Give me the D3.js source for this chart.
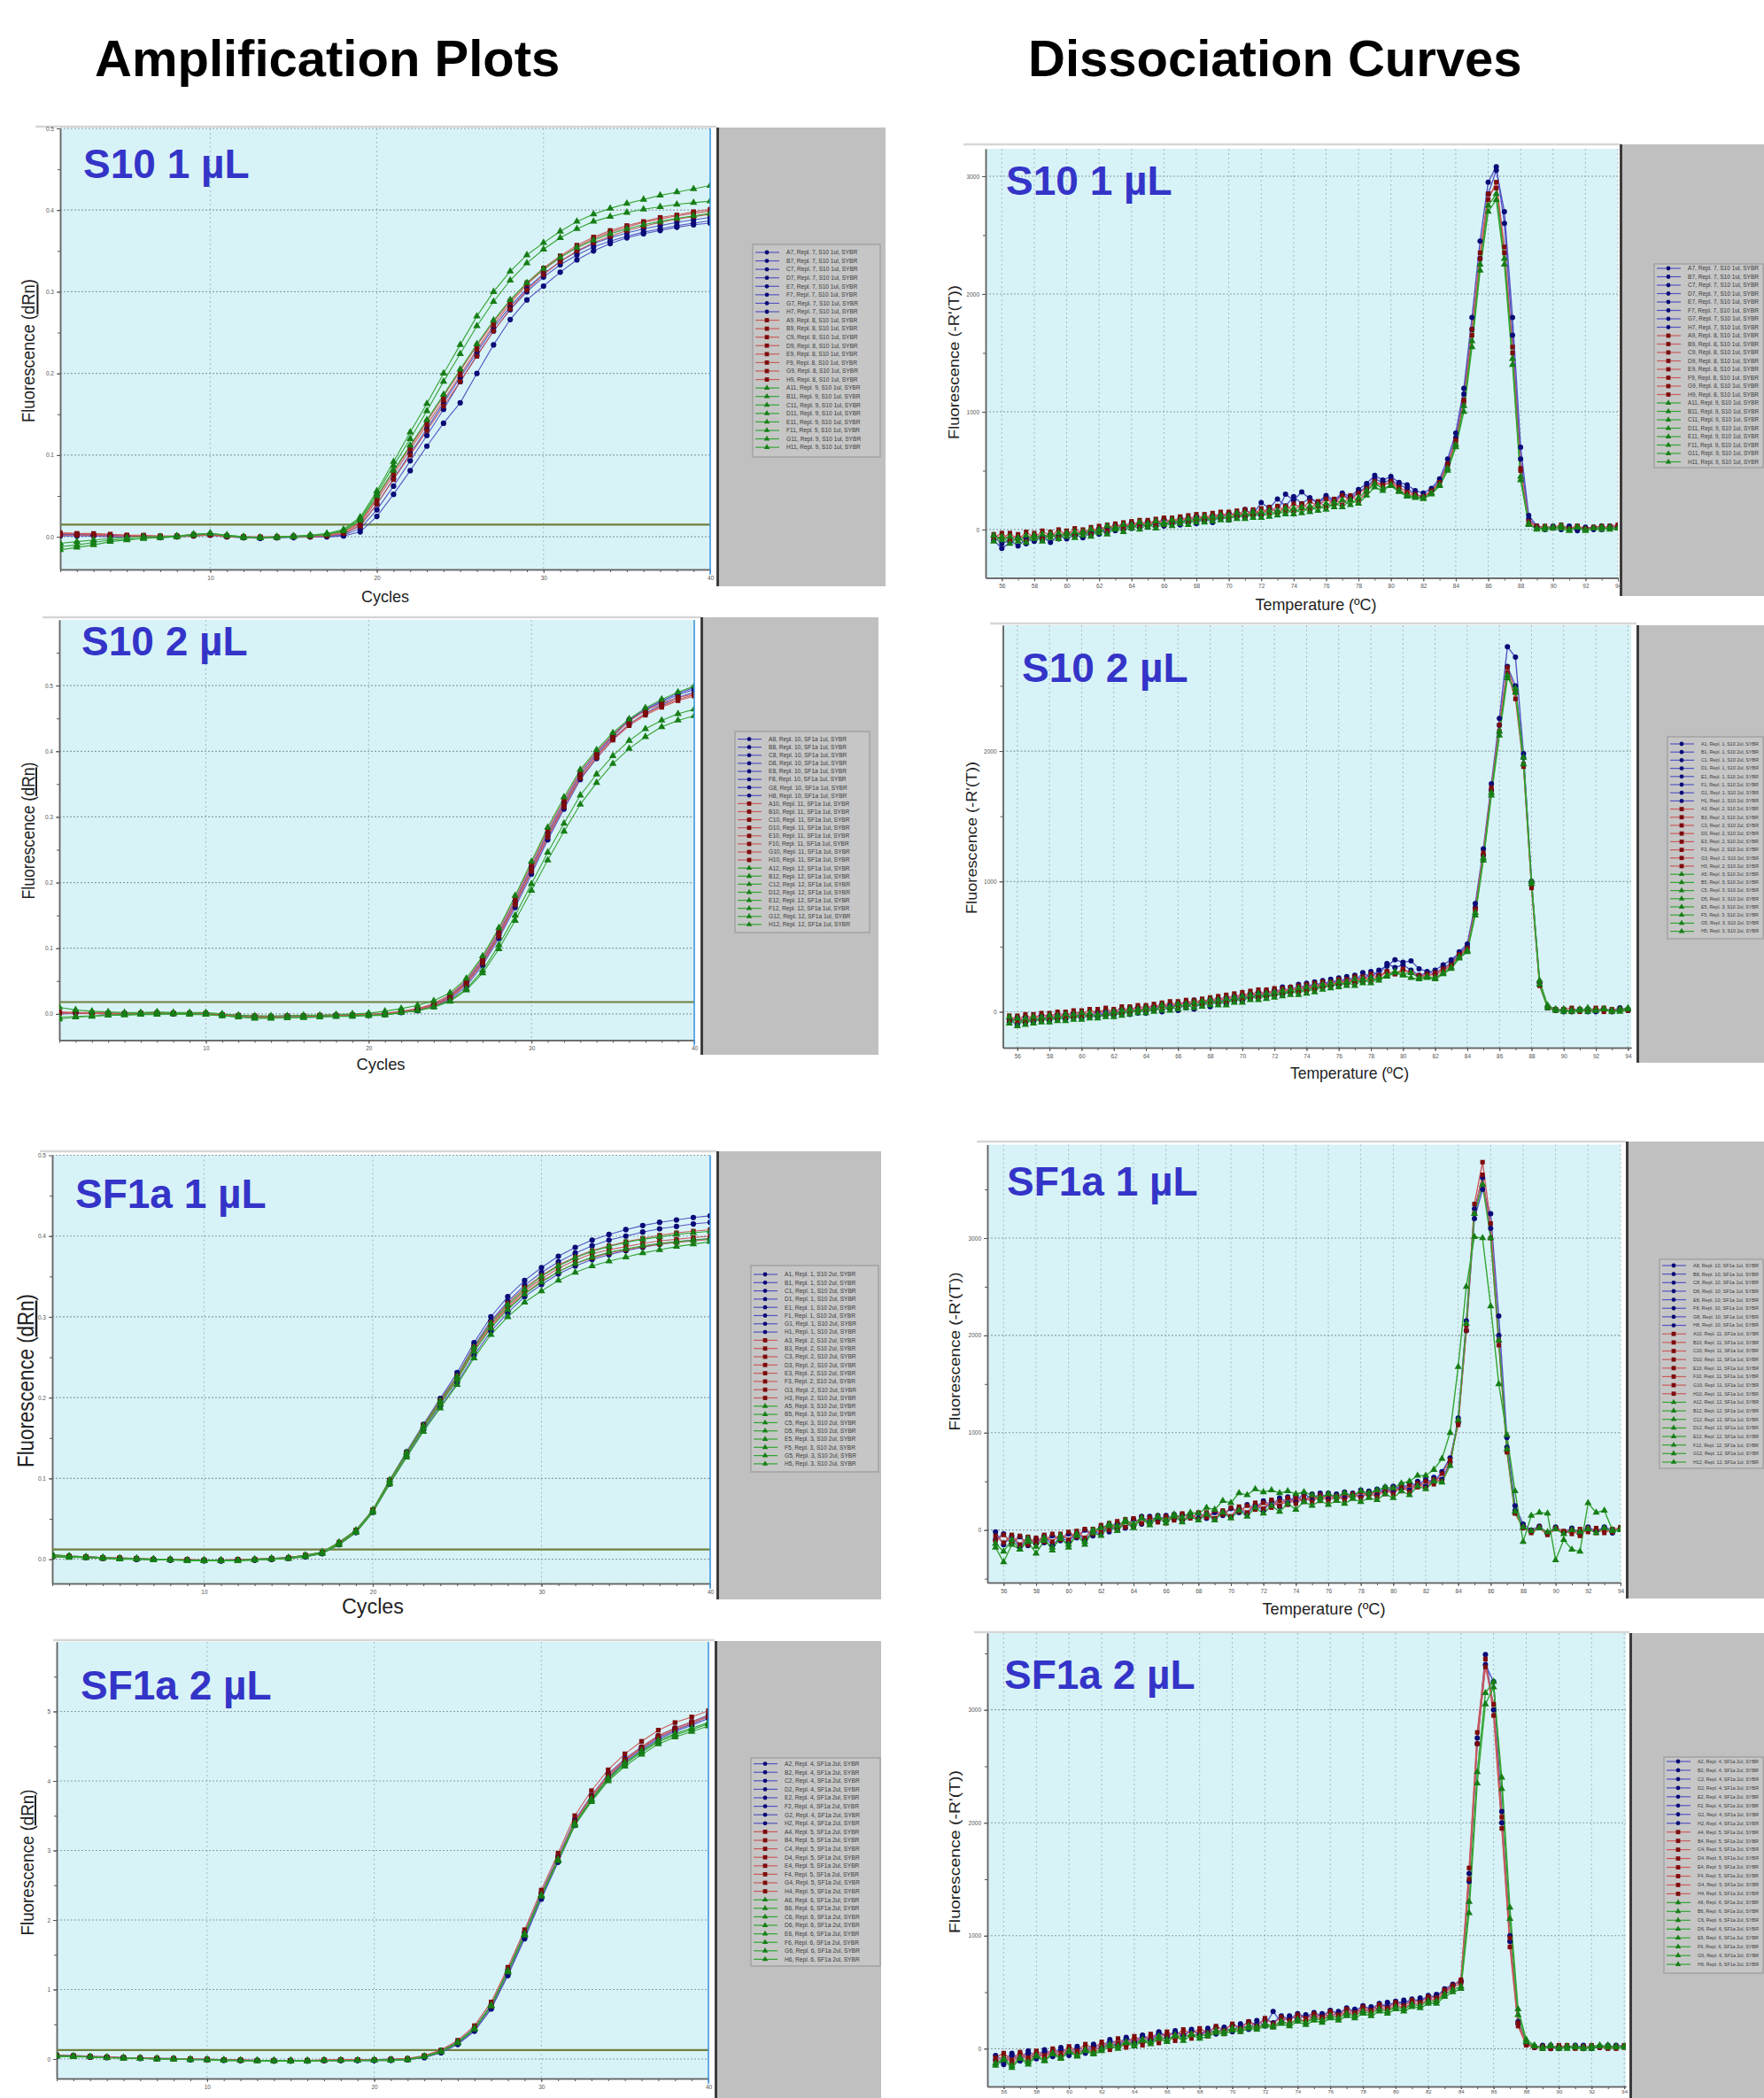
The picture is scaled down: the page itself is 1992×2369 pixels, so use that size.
<!DOCTYPE html>
<html><head><meta charset="utf-8">
<script src="https://cdn.jsdelivr.net/npm/d3@7/dist/d3.min.js"></script>
<style>body{margin:0;background:#fff;}svg{display:block;font-family:"Liberation Sans",Arial,sans-serif;}</style>
</head><body>
<svg id="c" width="1992" height="2369"></svg>
<script>
// ================= DATA =================
const cycles = [1,2,3,4,5,6,7,8,9,10,11,12,13,14,15,16,17,18,19,20,21,22,23,24,25,26,27,28,29,30,31,32,33,34,35,36,37,38,39,40];
const temps = [55.5,56,56.5,57,57.5,58,58.5,59,59.5,60,60.5,61,61.5,
  62,62.5,63,63.5,64,64.5,65,65.5,66,66.5,67,67.5,68,
  68.5,69,69.5,70,70.5,71,71.5,72,72.5,73,73.5,74,74.5,
  75,75.5,76,76.5,77,77.5,78,78.5,79,79.5,80,80.5,81,
  81.5,82,82.5,83,83.5,84,84.5,85,85.5,86,86.5,87,87.5,
  88,88.5,89,89.5,90,90.5,91,91.5,92,92.5,93,93.5,94];

// tick values / labels
const ampXTicks = [10,20,30,40];
const ampXTickLabels = ["10","20","30","40"];
const ampYTicksA = [0,0.1,0.2,0.3,0.4,0.5];
const ampYTickLabelsA = ["0.0","0.1","0.2","0.3","0.4","0.5"];
const ampYTicksB = [0,1,2,3,4,5];
const ampYTickLabelsB = ["0","1","2","3","4","5"];
const dissXTicks = [56,58,60,62,64,66,68,70,72,74,76,78,80,82,84,86,88,90,92,94];
const dissXTickLabels = ["56","58","60","62","64","66","68","70","72","74","76","78","80","82","84","86","88","90","92","94"];
const dissYTicks = [0,1000,2000,3000];
const dissYTickLabels = ["0","1000","2000","3000"];

// threshold values
const thresholds = [0.015, 0.018, 0.012, 0.13];

// legend text parts
const legendRows = ["A","B","C","D","E","F","G","H"];
const legendS10_1 = {wells:[7,9,11], repl:[7,8,9], sample:"S10 1ul"};
const legendSF1a_1 = {wells:[8,10,12], repl:[10,11,12], sample:"SF1a 1ul"};
const legendS10_2 = {wells:[1,3,5], repl:[1,2,3], sample:"S10 2ul"};
const legendSF1a_2 = {wells:[2,4,6], repl:[4,5,6], sample:"SF1a 2ul"};

// ---------- Amplification: S10 1 uL ----------
const amp1Blue = [
 [.002,.003,.002,.001,.001,.000,.000,.000,.002,.002, .000,-.001,-.001,-.001,.000,.000,.000,.002,.010,.033,
  .062,.093,.124,.156,.190,.222,.252,.278,.300,.318, .333,.345,.355,.362,.368,.373,.377,.381,.384,.387],
 [.001,.001,.001,.000,.000,.000,-.001,.000,.001,.002, .000,-.001,-.002,-.001,-.001,.000,.000,.001,.006,.025,
  .052,.081,.111,.139,.164,.200,.235,.266,.290,.307, .324,.339,.350,.359,.366,.371,.375,.379,.382,.384],
 [.003,.003,.002,.002,.001,.001,.000,.001,.002,.003, .001,.000,-.001,-.001,.000,.000,.001,.003,.014,.040,
  .071,.102,.132,.164,.195,.226,.256,.282,.304,.322, .337,.349,.359,.366,.372,.377,.381,.385,.388,.391]];
const amp1Red = [
 [.004,.004,.003,.003,.002,.002,.001,.001,.002,.002, .001,.000,-.001,.000,.000,.001,.002,.005,.016,.045,
  .076,.107,.137,.167,.198,.229,.259,.286,.309,.327, .342,.355,.365,.373,.379,.385,.389,.393,.396,.399],
 [.002,.002,.002,.001,.001,.000,.000,.000,.001,.002, .000,-.001,-.001,-.001,.000,.000,.001,.004,.013,.040,
  .070,.100,.130,.160,.190,.221,.252,.279,.302,.321, .337,.350,.360,.368,.375,.380,.385,.389,.392,.395],
 [.005,.004,.004,.003,.002,.001,.001,.001,.003,.003, .001,.000,.000,.000,.001,.001,.002,.006,.018,.048,
  .080,.110,.141,.172,.203,.234,.263,.289,.311,.329, .344,.357,.367,.375,.381,.386,.391,.394,.398,.401]];
const amp1Green = [
 [-.012,-.010,-.007,-.004,-.003,-.002,-.001,.000,.003,.004, .002,.000,-.001,.000,.001,.002,.004,.009,.024,.056,
  .092,.128,.163,.200,.235,.270,.300,.325,.345,.360, .374,.386,.395,.402,.408,.413,.418,.422,.426,.430],
 [-.016,-.013,-.010,-.006,-.004,-.002,-.001,.000,.002,.004, .002,.000,-.001,.000,.000,.002,.003,.008,.022,.053,
  .087,.120,.154,.190,.224,.258,.288,.314,.335,.352, .366,.377,.386,.392,.397,.401,.404,.407,.409,.411],
 [-.008,-.006,-.004,-.002,-.001,.000,.000,.001,.003,.004, .001,-.001,-.001,-.001,.000,.001,.003,.007,.020,.050,
  .081,.112,.143,.174,.205,.236,.265,.290,.311,.328, .342,.354,.363,.371,.377,.382,.386,.390,.393,.396]];

// ---------- Amplification: S10 2 uL ----------
const amp2Blue = [
 [.001,.002,.001,.001,.000,.001,.001,.000,.001,.000, -.002,-.003,-.004,-.004,-.004,-.004,-.003,-.003,-.002,-.002,
  .000,.003,.006,.013,.025,.046,.078,.120,.167,.218, .270,.317,.362,.394,.423,.446,.463,.475,.486,.494],
 [.002,.001,.001,.000,.001,.000,.000,.001,.000,.000, -.002,-.004,-.005,-.005,-.004,-.004,-.004,-.003,-.003,-.002,
  -.001,.002,.005,.011,.022,.042,.074,.115,.162,.213, .265,.312,.357,.389,.418,.441,.458,.471,.482,.490],
 [.000,.001,.001,.000,.000,.000,.001,.001,.000,.000, -.001,-.003,-.004,-.004,-.003,-.003,-.003,-.002,-.002,-.001,
  .000,.003,.007,.014,.027,.049,.082,.124,.172,.224, .276,.322,.366,.397,.425,.448,.464,.477,.488,.497]];
const amp2Red = [
 [.003,.002,.002,.001,.001,.001,.002,.001,.001,.001, -.001,-.002,-.003,-.004,-.003,-.003,-.002,-.002,-.001,-.001,
  .001,.004,.008,.016,.029,.051,.085,.128,.176,.228, .280,.326,.369,.399,.425,.446,.462,.473,.482,.487],
 [.002,.002,.001,.001,.000,.001,.001,.001,.000,.001, -.001,-.003,-.004,-.004,-.004,-.003,-.003,-.002,-.002,-.001,
  .000,.003,.007,.014,.026,.047,.080,.122,.170,.221, .273,.319,.363,.393,.420,.441,.457,.469,.479,.486],
 [.001,.001,.001,.000,.000,.000,.001,.000,.000,.000, -.002,-.004,-.005,-.005,-.004,-.004,-.003,-.003,-.002,-.002,
  -.001,.002,.006,.012,.024,.045,.077,.118,.166,.217, .269,.315,.359,.390,.417,.439,.455,.467,.477,.484]];
const amp2Green = [
 [.010,.006,.004,.003,.002,.002,.003,.002,.002,.002, .000,-.002,-.003,-.003,-.003,-.002,-.002,-.001,.000,.001,
  .004,.008,.013,.020,.032,.054,.088,.131,.180,.232, .284,.330,.372,.402,.428,.449,.466,.479,.490,.499],
 [-.008,-.005,-.004,-.002,-.001,.000,.000,.000,.000,-.001, -.003,-.005,-.007,-.007,-.006,-.006,-.005,-.004,-.004,-.003,
  -.002,.002,.005,.011,.020,.038,.066,.105,.150,.198, .246,.290,.333,.365,.393,.416,.434,.447,.457,.464],
 [-.005,-.004,-.003,-.002,-.002,-.001,-.001,.000,-.001,-.001, -.003,-.005,-.006,-.006,-.006,-.005,-.005,-.004,-.003,-.002,
  -.001,.002,.005,.010,.019,.036,.062,.099,.142,.188, .234,.278,.319,.352,.381,.404,.422,.437,.447,.454]];

// ---------- Amplification: SF1a 1 uL ----------
const amp3Blue = [
 [.005,.004,.003,.002,.001,.001,.000,.000,-.001,-.001, -.001,-.001,.000,.001,.002,.004,.008,.020,.036,.061,
  .098,.133,.167,.199,.231,.268,.300,.325,.345,.361, .375,.386,.395,.402,.408,.413,.417,.420,.423,.425],
 [.004,.003,.003,.002,.001,.000,.000,-.001,-.001,-.001, -.002,-.001,-.001,.000,.002,.004,.007,.019,.035,.060,
  .096,.131,.165,.196,.227,.264,.295,.319,.339,.355, .368,.379,.388,.395,.400,.405,.409,.412,.415,.417],
 [.003,.003,.002,.001,.001,.000,.000,-.001,-.001,-.002, -.002,-.001,-.001,.000,.001,.003,.007,.018,.033,.058,
  .093,.127,.160,.189,.218,.252,.282,.305,.325,.340, .353,.363,.371,.377,.382,.386,.390,.393,.395,.397]];
const amp3Red = [
 [.004,.003,.003,.002,.001,.001,.000,.000,-.001,-.001, -.001,-.001,.000,.001,.002,.005,.008,.020,.035,.060,
  .097,.131,.164,.194,.224,.260,.290,.313,.332,.347, .360,.370,.378,.383,.387,.391,.394,.396,.398,.400],
 [.003,.003,.002,.001,.001,.000,.000,-.001,-.001,-.001, -.002,-.001,-.001,.000,.001,.004,.008,.020,.035,.061,
  .097,.130,.163,.193,.223,.258,.288,.311,.329,.344, .356,.366,.373,.379,.383,.387,.390,.392,.394,.396],
 [.005,.004,.003,.002,.002,.001,.000,.000,.000,-.001, -.001,.000,.000,.001,.002,.005,.009,.021,.036,.061,
  .098,.132,.166,.197,.227,.263,.293,.317,.336,.351, .364,.374,.382,.388,.393,.397,.401,.404,.406,.408]];
const amp3Green = [
 [.006,.004,.003,.002,.001,.001,.000,.000,-.001,-.001, -.001,-.001,.000,.001,.002,.005,.009,.021,.036,.061,
  .098,.132,.165,.196,.226,.262,.292,.315,.334,.350, .363,.373,.381,.387,.392,.396,.399,.402,.404,.406],
 [.004,.003,.002,.002,.001,.000,.000,-.001,-.001,-.002, -.002,-.002,-.001,.000,.001,.004,.008,.019,.034,.059,
  .095,.129,.162,.192,.222,.257,.286,.309,.328,.343, .356,.366,.374,.380,.384,.388,.391,.393,.395,.397],
 [.003,.002,.002,.001,.000,.000,-.001,-.001,-.002,-.002, -.002,-.002,-.001,.000,.001,.003,.007,.018,.033,.058,
  .093,.126,.158,.187,.216,.249,.278,.300,.318,.332, .345,.355,.363,.369,.374,.379,.383,.387,.390,.393]];

// ---------- Amplification: SF1a 2 uL ----------
const amp4Blue = [
 [.05,.04,.03,.03,.02,.01,.01,.00,.00,-.01, -.01,-.02,-.02,-.02,-.02,-.02,-.02,-.02,-.02,-.02,
  -.01,-.01,.03,.10,.22,.41,.73,1.22,1.75,2.32, 2.85,3.38,3.74,4.05,4.28,4.46,4.62,4.73,4.82,4.93],
 [.04,.04,.03,.02,.02,.01,.00,.00,-.01,-.01, -.02,-.02,-.02,-.03,-.03,-.03,-.02,-.02,-.02,-.02,
  -.02,-.01,.02,.09,.21,.40,.72,1.20,1.73,2.30, 2.83,3.36,3.72,4.03,4.26,4.44,4.60,4.71,4.80,4.90],
 [.06,.05,.04,.03,.02,.02,.01,.01,.00,.00, -.01,-.01,-.02,-.02,-.02,-.02,-.02,-.01,-.01,-.01,
  .00,.00,.04,.12,.25,.45,.78,1.28,1.82,2.39, 2.91,3.44,3.79,4.10,4.32,4.49,4.65,4.76,4.85,4.95]];
const amp4Red = [
 [.05,.05,.04,.03,.02,.02,.01,.01,.00,.00, -.01,-.01,-.02,-.02,-.02,-.02,-.01,-.01,-.01,-.01,
  .00,.01,.05,.13,.27,.48,.82,1.32,1.86,2.43, 2.96,3.50,3.86,4.16,4.39,4.57,4.73,4.84,4.92,5.01],
 [.04,.04,.03,.02,.02,.01,.01,.00,.00,-.01, -.01,-.02,-.02,-.02,-.02,-.02,-.02,-.01,-.01,-.01,
  -.01,.00,.04,.11,.24,.44,.77,1.27,1.80,2.37, 2.89,3.42,3.78,4.09,4.31,4.49,4.65,4.76,4.85,4.94],
 [.05,.04,.03,.03,.02,.01,.01,.00,.00,-.01, -.01,-.02,-.02,-.02,-.02,-.02,-.02,-.02,-.01,-.01,
  -.01,.00,.04,.11,.24,.44,.76,1.26,1.79,2.36, 2.88,3.41,3.77,4.07,4.30,4.47,4.63,4.74,4.83,4.92]];
const amp4Green = [
 [.04,.04,.03,.02,.01,.01,.00,.00,-.01,-.01, -.02,-.02,-.02,-.02,-.03,-.03,-.02,-.02,-.02,-.02,
  -.01,-.01,.03,.11,.24,.44,.77,1.26,1.79,2.35, 2.86,3.37,3.72,4.02,4.24,4.41,4.56,4.66,4.74,4.82],
 [.05,.04,.03,.02,.02,.01,.01,.00,.00,-.01, -.01,-.02,-.02,-.02,-.02,-.02,-.02,-.02,-.02,-.01,
  -.01,.00,.04,.11,.24,.44,.77,1.27,1.80,2.36, 2.87,3.39,3.74,4.04,4.26,4.43,4.58,4.68,4.76,4.84],
 [.04,.03,.03,.02,.01,.01,.00,.00,-.01,-.01, -.02,-.02,-.03,-.03,-.03,-.03,-.02,-.02,-.02,-.02,
  -.02,-.01,.03,.10,.23,.43,.76,1.25,1.78,2.34, 2.85,3.36,3.70,4.00,4.21,4.38,4.53,4.63,4.71,4.79]];

// ---------- Dissociation: S10 1 uL ----------
const diss1Blue = [
 [-90,-160,-110,-70,-120,-50,-90,-40,-80,-30,-60,-20,-50,
  10,-30,40,0,60,20,70,30,90,50,100,60,110,
  70,120,90,140,110,170,130,230,180,260,200,280,220,
  270,230,290,250,310,280,340,390,460,420,450,400,380,
  330,310,350,430,600,820,1200,1800,2450,2950,3080,2600,1650,
  600,90,20,10,30,0,20,-10,20,0,30,10,20],
 [-60,-120,-90,-140,-80,-100,-60,-110,-50,-80,-40,-70,-20,
  -40,20,-10,40,10,50,20,60,30,70,40,90,50,
  100,60,120,80,140,100,160,120,190,150,300,250,320,
  260,230,270,240,300,260,320,360,430,400,420,380,350,
  300,280,330,410,560,780,1150,1700,2300,2850,3050,2700,1800,
  700,120,30,0,20,10,30,0,10,20,0,30,20]];
const diss1Red = [
 [-40,-80,-30,-90,-20,-70,-10,-60,0,-50,10,-40,20,
  -20,40,10,60,20,80,30,90,40,100,60,120,70,
  130,80,150,100,160,110,170,130,190,140,200,160,220,
  170,240,190,260,210,290,240,320,400,370,410,360,320,
  300,270,320,400,560,760,1100,1700,2350,2850,2900,2350,1500,
  500,70,30,10,20,40,10,30,0,20,10,30,40],
 [-70,-30,-90,-40,-100,-30,-80,-20,-70,-10,-50,0,-40,
  30,-10,50,10,70,30,80,40,100,50,110,70,130,
  80,140,100,150,110,170,120,180,140,200,160,220,180,
  240,200,260,220,290,250,310,350,410,380,400,340,300,
  290,280,330,400,540,740,1080,1650,2300,2800,2950,2400,1550,
  520,60,20,30,10,20,0,30,10,20,30,10,30]];
const diss1Green = [
 [-50,-90,-60,-100,-50,-80,-40,-70,-30,-60,-20,-50,0,
  -30,30,0,40,10,60,20,70,40,80,50,90,60,
  110,70,120,80,140,90,150,100,160,120,180,130,190,
  150,210,170,230,190,250,220,290,360,330,380,330,290,
  280,270,310,380,520,720,1050,1600,2250,2750,2850,2300,1450,
  450,50,0,20,10,30,0,20,-10,10,0,20,10],
 [-100,-60,-120,-70,-110,-50,-100,-40,-80,-30,-70,-20,-60,
  0,-40,20,-20,40,0,50,10,60,30,80,40,100,
  60,110,80,120,90,140,100,150,110,160,130,180,140,
  200,160,220,190,250,210,270,330,390,350,370,320,280,
  270,260,300,370,500,700,1000,1550,2200,2700,2800,2250,1400,
  420,40,10,0,20,10,-10,20,0,10,20,0,10]];

// ---------- Dissociation: S10 2 uL ----------
const diss2Blue = [
 [-60,-100,-40,-80,-30,-70,-20,-60,-10,-50,-20,-40,0,
  -30,20,-20,30,-10,40,0,50,10,70,20,80,40,
  100,60,120,80,140,110,160,130,190,150,210,170,230,
  190,250,210,270,230,300,260,320,350,400,380,390,330,
  310,290,340,370,460,520,830,1250,1750,2250,2800,2720,1980,
  1000,230,40,10,20,0,10,20,0,20,10,30,10],
 [-80,-40,-90,-50,-70,-30,-60,-20,-50,-10,-40,0,-30,
  10,-20,30,-10,40,10,60,20,70,30,90,50,100,
  60,110,80,130,100,150,120,170,130,190,160,220,180,
  240,200,260,220,280,240,310,280,370,340,360,320,280,
  300,320,360,400,450,500,800,1200,1700,2200,2650,2500,1950,
  990,220,30,20,0,10,20,0,10,20,0,10,20]];
const diss2Red = [
 [-30,-70,-20,-60,-10,-50,0,-40,10,-30,20,-20,30,
  -10,40,0,50,20,60,30,80,40,90,60,100,70,
  120,80,140,100,160,110,170,130,180,150,200,160,220,
  180,230,200,250,220,270,240,280,310,290,320,300,280,
  270,300,330,360,440,490,790,1220,1720,2200,2640,2450,1900,
  950,200,30,10,20,30,0,20,10,30,0,20,10],
 [-70,-30,-80,-20,-60,-10,-50,0,-40,10,-30,20,-20,
  20,-10,40,0,50,20,70,30,80,50,90,60,110,
  70,130,90,150,110,170,120,180,140,190,150,210,170,
  230,190,250,210,270,230,290,260,310,290,330,300,270,
  290,280,320,350,430,480,780,1200,1700,2150,2600,2400,1880,
  960,210,40,20,10,0,20,10,30,0,20,10,20]];
const diss2Green = [
 [-90,-50,-100,-40,-80,-30,-70,-20,-60,-10,-50,-20,-40,
  0,-30,20,-10,30,0,50,10,60,30,70,40,90,
  50,100,70,120,90,140,100,150,120,170,130,190,150,
  210,180,230,200,250,220,260,240,280,310,290,300,260,
  270,260,300,340,420,470,760,1180,1680,2150,2580,2450,1900,
  980,210,30,10,20,0,10,30,10,20,0,20,30],
 [-40,-110,-50,-90,-40,-80,-30,-70,-20,-60,-10,-50,-10,
  -40,10,-20,20,-10,30,10,40,20,60,30,80,50,
  90,50,110,70,130,90,140,110,160,130,180,140,200,
  170,220,190,230,200,250,220,260,270,300,280,260,250,
  260,250,290,330,410,460,740,1160,1660,2120,2560,2480,1950,
  1000,240,50,20,0,10,20,0,10,20,10,0,20]];

// ---------- Dissociation: SF1a 1 uL ----------
const diss3Blue = [
 [-20,-150,-60,-180,-80,-140,-60,-160,-70,-120,-30,-100,-20,
  -40,60,0,90,40,140,80,150,90,160,100,150,120,
  170,110,190,130,220,160,260,200,300,240,340,290,380,
  310,380,320,370,330,380,340,400,360,440,390,470,410,
  500,450,540,520,700,1150,2150,3300,3620,3100,2000,850,200,
  40,-20,30,-40,20,-30,10,-20,30,-10,20,-30,20],
 [-100,-40,-140,-70,-160,-90,-130,-60,-110,-40,-80,0,-60,
  30,-20,70,20,110,60,140,90,150,110,160,130,170,
  120,180,150,220,180,260,220,300,250,330,280,350,300,
  370,320,380,330,390,340,410,370,420,390,450,420,480,
  460,520,490,600,740,1100,2050,3200,3500,3250,2200,950,250,
  60,0,40,-30,30,-20,20,-40,10,-10,30,0,10]];
const diss3Red = [
 [-60,-130,-50,-150,-70,-130,-50,-120,-40,-100,-10,-80,10,
  -20,70,10,110,40,130,60,140,70,150,90,160,110,
  180,120,200,140,240,180,280,220,310,250,330,270,340,
  290,360,300,350,310,370,330,380,340,420,370,450,390,
  480,430,520,500,680,1120,2100,3350,3780,3150,1950,820,180,
  30,-30,20,-50,10,-20,0,-60,20,-30,10,-20,30],
 [-110,-50,-130,-60,-150,-80,-120,-40,-100,-20,-70,10,-40,
  50,0,90,30,120,70,130,80,140,100,170,120,180,
  130,200,160,230,190,250,210,280,230,300,260,330,290,
  350,300,360,310,370,330,390,350,400,370,430,400,460,
  440,500,470,580,720,1080,2050,3250,3650,3000,1900,800,170,
  20,-10,30,-30,20,-10,-40,10,-20,20,-30,10,20]];
const diss3Green = [
 [-180,-330,-150,-200,-120,-240,-110,-180,-90,-150,-60,-120,-30,
  -60,40,-10,80,20,120,50,130,70,140,80,140,100,
  160,100,180,120,200,140,230,170,250,190,270,210,290,
  250,300,260,300,270,320,290,330,310,370,330,400,360,
  450,420,500,490,660,1130,2120,3250,3550,3000,1950,830,190,
  30,-10,20,-20,10,-40,0,-20,10,-30,20,-10,10],
 [-140,-220,-100,-200,-90,-170,-80,-210,-60,-180,-40,-150,0,
  20,60,40,100,60,120,80,140,100,160,130,180,170,
  230,210,300,280,380,360,420,390,410,380,400,370,390,
  360,330,370,340,380,350,400,380,410,440,430,480,500,
  560,560,620,733,1000,1677,2500,3013,3000,2300,1500,977,400,
  -120,147,180,170,-310,-100,-200,-220,277,180,200,0,0]];

// ---------- Dissociation: SF1a 2 uL ----------
const diss4Blue = [
 [-100,-140,-60,-110,-40,-90,-30,-70,-10,-60,0,-40,20,
  -10,60,20,90,40,110,70,140,100,160,110,170,120,
  180,130,190,150,220,170,250,200,330,230,290,260,300,
  270,310,280,330,300,350,320,370,350,410,380,430,400,
  450,430,480,500,560,600,1550,2750,3490,3000,2000,950,220,
  40,20,10,30,0,20,10,30,0,20,10,30,20],
 [-60,-110,-40,-90,-20,-70,-10,-50,10,-40,20,-20,40,
  10,80,40,100,60,120,80,150,110,140,120,160,130,
  150,190,170,210,190,240,210,260,230,290,260,310,280,
  320,290,340,310,360,330,380,350,400,370,420,400,440,
  420,470,460,530,570,590,1480,2700,3400,3250,2100,1000,240,
  50,10,30,0,20,10,30,0,20,10,30,10,20]];
const diss4Red = [
 [-80,-40,-100,-30,-80,-20,-60,0,-40,20,-20,40,0,
  60,20,90,40,110,60,130,90,150,110,170,130,180,
  140,200,160,220,180,240,200,270,220,280,250,300,270,
  310,280,330,300,350,320,370,340,390,360,410,380,430,
  410,460,450,520,560,610,1600,2800,3450,2950,1950,900,200,
  30,10,20,0,30,10,20,0,30,10,20,0,30],
 [-120,-60,-130,-50,-100,-40,-80,-20,-70,0,-50,10,-30,
  30,-10,50,10,80,30,100,50,120,70,140,90,150,
  110,170,130,190,150,210,170,230,190,250,210,270,240,
  290,260,310,280,330,300,350,320,370,340,390,360,410,
  390,440,430,500,540,580,1500,2700,3380,3050,2050,980,230,
  40,20,0,20,10,30,0,20,10,20,0,20,10]];
const diss4Green = [
 [-130,-90,-150,-80,-120,-60,-100,-40,-80,-20,-60,-10,-40,
  0,40,20,60,40,80,60,110,80,120,100,130,110,
  130,160,150,180,170,200,190,220,200,240,220,260,230,
  270,250,290,270,310,290,330,310,350,330,370,350,390,
  380,420,420,480,520,550,1300,2450,3150,3250,2300,1150,300,
  60,20,10,30,0,20,10,0,20,30,10,20,10],
 [-150,-100,-170,-90,-140,-70,-110,-50,-90,-30,-70,-20,-50,
  -20,20,0,50,20,70,40,90,60,110,70,120,90,
  110,140,130,160,150,180,170,200,190,220,200,240,210,
  250,230,270,250,290,270,310,290,330,310,350,330,370,
  360,400,400,460,500,530,1200,2350,3050,3200,2400,1250,350,
  80,30,0,20,10,0,20,10,0,20,30,10,20]];

// ================= STYLE / LAYOUT =================
const groupStyle = [
  {line:"#5454c4", mark:"#0b0b78", shape:"circle"},
  {line:"#cc5a5a", mark:"#7e0c0c", shape:"square"},
  {line:"#33a433", mark:"#167e16", shape:"triangle"}
];

const panels = [
 {kind:"amp", title:"S10 1 µL", xs:cycles, groups:[amp1Blue,amp1Red,amp1Green], legend:legendS10_1,
  plot:[68,145,802,643], xDomain:[1,40], yDomain:[-0.04,0.5], yTicks:ampYTicksA, yLabels:ampYTickLabelsA, yMinor:0.05,
  threshold:thresholds[0], gray:[809,144,1000,662], border:[40,143],
  titlePos:[94,201], ylab:[32,396,162,21], xlab:[435,680,54,19], leg:[850,276,144,240,285,9.57]},
 {kind:"amp", title:"S10 2 µL", xs:cycles, groups:[amp2Blue,amp2Red,amp2Green], legend:legendSF1a_1,
  plot:[67,700,784,1174.5], xDomain:[1,40], yDomain:[-0.04,0.6], yTicks:ampYTicksA, yLabels:ampYTickLabelsA, yMinor:0.05,
  threshold:thresholds[1], gray:[791,697,992,1191], border:[48,697],
  titlePos:[92,740], ylab:[32,938,155,20], xlab:[430,1208,55,19], leg:[830,826,152,227,834.6,9.1]},
 {kind:"amp", title:"SF1a 1 µL", xs:cycles, groups:[amp3Blue,amp3Red,amp3Green], legend:legendS10_2,
  plot:[59,1304.5,802,1788], xDomain:[1,40], yDomain:[-0.03,0.5], yTicks:ampYTicksA, yLabels:ampYTickLabelsA, yMinor:0.05,
  threshold:thresholds[2], gray:[809,1300,995,1806], border:[45,1300],
  titlePos:[85,1364], ylab:[29,1559,196,25], xlab:[421,1822,70,23], leg:[848,1429,144,233,1439,9.3]},
 {kind:"amp", title:"SF1a 2 µL", xs:cycles, groups:[amp4Blue,amp4Red,amp4Green], legend:legendSF1a_2,
  plot:[64,1854,800,2347], xDomain:[1,40], yDomain:[-0.28,6], yTicks:ampYTicksB, yLabels:ampYTickLabelsB, yMinor:0.5,
  threshold:thresholds[3], gray:[807,1853,995,2369], border:[60,1852],
  titlePos:[91,1919], ylab:[31,2103,165,20], xlab:null, leg:[848,1985,146,235,1991.6,9.6]},
 {kind:"diss", title:"S10 1 µL", xs:temps, groups:[diss1Blue,diss1Red,diss1Green], legend:legendS10_1,
  plot:[1113,168,1827,652.5], xDomain:[55,94], yDomain:[-410,3233], yTicks:dissYTicks, yLabels:dissYTickLabels, yMinor:500,
  gray:[1829,163,1992,673], border:[1088,163],
  titlePos:[1136,220], ylab:[1077,409,174,17], xlab:[1486,689,137,19], leg:[1868,298,140,230,303,9.5]},
 {kind:"diss", title:"S10 2 µL", xs:temps, groups:[diss2Blue,diss2Red,diss2Green], legend:legendS10_2,
  plot:[1132.5,706,1842,1183], xDomain:[55.1,94.2], yDomain:[-275,2965], yTicks:dissYTicks, yLabels:dissYTickLabels, yMinor:500,
  gray:[1848,706,1992,1200], border:[1118,704],
  titlePos:[1154,770], ylab:[1097,946,172,17], xlab:[1524,1218,134,19], leg:[1883,832,120,228,840,9.2]},
 {kind:"diss", title:"SF1a 1 µL", xs:temps, groups:[diss3Blue,diss3Red,diss3Green], legend:legendSF1a_1,
  plot:[1115,1292.5,1830,1787], xDomain:[55,94], yDomain:[-540,3960], yTicks:dissYTicks, yLabels:dissYTickLabels, yMinor:500,
  gray:[1836,1289,1992,1805], border:[1103,1289],
  titlePos:[1137,1350], ylab:[1078,1526,179,17], xlab:[1495,1823,139,19], leg:[1874,1422,130,236,1429,9.65]},
 {kind:"diss", title:"SF1a 2 µL", xs:temps, groups:[diss4Blue,diss4Red,diss4Green], legend:legendSF1a_2,
  plot:[1115,1844,1836,2356], xDomain:[55,94.1], yDomain:[-335,3680], yTicks:dissYTicks, yLabels:dissYTickLabels, yMinor:500,
  gray:[1840,1844,1992,2369], border:[1100,1843], tight:true,
  titlePos:[1134,1907], ylab:[1078,2091,184,17], xlab:null, leg:[1879,1984,125,244,1989,9.96]}
];

// ================= DRAW =================
const svg = d3.select("#c");
svg.append("rect").attr("width",1992).attr("height",2369).attr("fill","#fff");

svg.append("text").attr("x",107).attr("y",86).attr("font-size",58).attr("font-weight","bold").attr("fill","#000").text("Amplification Plots");
svg.append("text").attr("x",1161).attr("y",86).attr("font-size",58).attr("font-weight","bold").attr("fill","#000").text("Dissociation Curves");

function marker(sel, pts, st, sz) {
  if (st.shape === "circle") {
    sel.selectAll(null).data(pts).join("circle").attr("cx",d=>d[0]).attr("cy",d=>d[1]).attr("r",sz).attr("fill",st.mark);
  } else if (st.shape === "square") {
    sel.selectAll(null).data(pts).join("rect").attr("x",d=>d[0]-sz).attr("y",d=>d[1]-sz).attr("width",2*sz).attr("height",2*sz).attr("fill",st.mark);
  } else {
    const tri = d3.symbol(d3.symbolTriangle, sz*sz*3.2)();
    sel.selectAll(null).data(pts).join("path").attr("d",tri).attr("transform",d=>`translate(${d[0]},${d[1]})`).attr("fill",st.mark);
  }
}

panels.forEach((c, pi) => {
  const [px0, py0, px1, py1] = c.plot;
  const x = d3.scaleLinear().domain(c.xDomain).range([px0, px1]);
  const y = d3.scaleLinear().domain(c.yDomain).range([py1, py0]);
  const inY = v => v >= c.yDomain[0] && v <= c.yDomain[1];
  const g = svg.append("g");

  // top border line
  g.append("line").attr("x1",c.border[0]).attr("x2",c.gray[0]).attr("y1",c.border[1]).attr("y2",c.border[1])
    .attr("stroke","#d6d6d6").attr("stroke-width",2.5);
  // gray side panel
  g.append("rect").attr("x",c.gray[0]).attr("y",c.gray[1]).attr("width",c.gray[2]-c.gray[0]).attr("height",c.gray[3]-c.gray[1]).attr("fill","#c0c0c0");
  g.append("line").attr("x1",c.gray[0]+1.5).attr("x2",c.gray[0]+1.5).attr("y1",c.gray[1]).attr("y2",c.gray[3])
    .attr("stroke","#3c3c3c").attr("stroke-width",3);
  // plot background
  g.append("rect").attr("x",px0).attr("y",py0).attr("width",px1-px0).attr("height",py1-py0).attr("fill","#d8f3f7");

  // grids
  const xGrid = c.kind === "amp" ? ampXTicks.slice(0,3) : dissXTicks;
  const yTicks = c.yTicks.filter(inY);
  const yLabels = c.yLabels.filter((l,i)=>inY(c.yTicks[i]));
  g.append("g").selectAll("line").data(xGrid).join("line")
    .attr("x1",d=>x(d)).attr("x2",d=>x(d)).attr("y1",py0).attr("y2",py1)
    .attr("stroke","#a6b8c0").attr("stroke-width",1).attr("stroke-dasharray","2,3");
  g.append("g").selectAll("line").data(yTicks).join("line")
    .attr("x1",px0).attr("x2",px1).attr("y1",d=>y(d)).attr("y2",d=>y(d))
    .attr("stroke","#8e9ea6").attr("stroke-width",1.2).attr("stroke-dasharray","2,2");

  // axes
  const xMinor = c.kind === "amp" ? c.xs : d3.range(56, 95, 1);
  const yMinor = d3.range(Math.ceil(c.yDomain[0]/c.yMinor)*c.yMinor, c.yDomain[1], c.yMinor);
  const axStyle = s => { s.select(".domain").attr("stroke","#666").attr("stroke-width",1.5); s.selectAll(".tick line").attr("stroke","#555"); s.selectAll("text").attr("fill","#555").attr("font-size",6.5).attr("font-family","Liberation Sans, Arial"); };
  g.append("g").attr("transform",`translate(0,${py1})`)
    .call(d3.axisBottom(x).tickValues(xMinor).tickFormat("").tickSize(3).tickSizeOuter(0)).call(axStyle);
  const xMajor = c.kind === "amp"
      ? d3.axisBottom(x).tickValues(ampXTicks).tickFormat((d,i)=>ampXTickLabels[i])
      : d3.axisBottom(x).tickValues(dissXTicks).tickFormat((d,i)=>dissXTickLabels[i]);
  xMajor.tickSize(c.tight ? 3 : 4).tickPadding(c.tight ? 1 : 3).tickSizeOuter(0);
  const xAxG = g.append("g").attr("transform",`translate(0,${py1})`).call(xMajor).call(axStyle);
  if (c.tight) xAxG.selectAll("text").attr("font-size",6);
  g.append("g").attr("transform",`translate(${px0},0)`)
    .call(d3.axisLeft(y).tickValues(yMinor).tickFormat("").tickSize(3).tickSizeOuter(0)).call(axStyle);
  g.append("g").attr("transform",`translate(${px0},0)`)
    .call(d3.axisLeft(y).tickValues(yTicks).tickFormat((d,i)=>yLabels[i]).tickSize(4).tickSizeOuter(0)).call(axStyle);

  // clip
  const cid = "clip" + pi;
  svg.append("clipPath").attr("id",cid).append("rect").attr("x",px0).attr("y",py0).attr("width",px1-px0).attr("height",py1-py0);
  const pg = g.append("g").attr("clip-path",`url(#${cid})`);

  // threshold line (amplification)
  if (c.kind === "amp") {
    pg.append("line").attr("x1",px0).attr("x2",px1).attr("y1",y(c.threshold)).attr("y2",y(c.threshold))
      .attr("stroke","#6f7f3e").attr("stroke-width",2.2);
  }

  // series
  const line = d3.line().x((v,i)=>x(c.xs[i])).y(v=>y(v));
  const msz = c.kind === "amp" ? 3.1 : 3.0;
  const lw = c.kind === "amp" ? 1.1 : 1.4;
  c.groups.forEach((grp, gi) => {
    const st = groupStyle[gi];
    grp.forEach(series => {
      const vals = series.slice(0, c.xs.length);
      pg.append("path").datum(vals).attr("d",line).attr("fill","none").attr("stroke",st.line).attr("stroke-width",lw);
    });
  });
  c.groups.forEach((grp, gi) => {
    const st = groupStyle[gi];
    grp.forEach(series => {
      const pts = series.slice(0, c.xs.length).map((v,i)=>[x(c.xs[i]), y(v)]);
      marker(pg.append("g"), pts, st, gi === 1 ? msz*0.85 : msz);
    });
  });

  // right blue line (amplification)
  if (c.kind === "amp") {
    g.append("line").attr("x1",px1).attr("x2",px1).attr("y1",py0).attr("y2",py1+6).attr("stroke","#3f97de").attr("stroke-width",1.6);
  }

  // title
  g.append("text").attr("x",c.titlePos[0]).attr("y",c.titlePos[1]).attr("font-size",46).attr("font-weight","bold")
    .attr("fill","#3434c8").text(c.title);

  // y label
  const yl = g.append("text").attr("transform",`translate(${c.ylab[0]},${c.ylab[1]}) rotate(-90)`)
    .attr("text-anchor","middle").attr("dy","0.35em").attr("font-size",c.ylab[3]).attr("fill","#222")
    .attr("textLength",c.ylab[2]).attr("lengthAdjust","spacingAndGlyphs");
  if (c.kind === "amp") {
    yl.append("tspan").text("Fluorescence (");
    yl.append("tspan").attr("style","text-decoration: underline wavy #e03030").text("dRn");
    yl.append("tspan").text(")");
  } else {
    yl.text("Fluorescence (-R'(T))");
  }
  // x label
  if (c.xlab) {
    g.append("text").attr("x",c.xlab[0]).attr("y",c.xlab[1]).attr("text-anchor","middle").attr("font-size",c.xlab[3])
      .attr("fill","#222").attr("textLength",c.xlab[2]).attr("lengthAdjust","spacingAndGlyphs")
      .text(c.kind === "amp" ? "Cycles" : "Temperature (ºC)");
  }

  // legend
  const [lx, ly, lw2, lh, r0, dy] = c.leg;
  const lg = g.append("g");
  lg.append("rect").attr("x",lx).attr("y",ly).attr("width",Math.min(lw2, 1991-lx)).attr("height",lh).attr("fill","#c6c6c6").attr("stroke","#a2a2a2").attr("stroke-width",1.5);
  const rows = [];
  c.legend.wells.forEach((w, gi) => legendRows.forEach(r => rows.push({gi, text:`${r}${w}, Repl. ${c.legend.repl[gi]}, ${c.legend.sample}, SYBR`})));
  rows.forEach((row, ri) => {
    const st = groupStyle[row.gi];
    const yy = r0 + ri*dy;
    lg.append("line").attr("x1",lx+3).attr("x2",lx+30).attr("y1",yy).attr("y2",yy).attr("stroke",st.line).attr("stroke-width",1.2);
    marker(lg.append("g"), [[lx+16, yy]], st, 2.4);
    const t = lg.append("text").attr("x",lx+38).attr("y",yy).attr("dy","0.35em").attr("font-size",6.6).attr("fill","#3a3a3a").text(row.text);
    const avail = Math.min(lx + lw2 - 4, 1986) - (lx + 38);
    const natural = t.node().getComputedTextLength();
    if (natural > avail) t.attr("font-size", (6.6 * avail / natural).toFixed(2));
  });
});
</script>
</body></html>
